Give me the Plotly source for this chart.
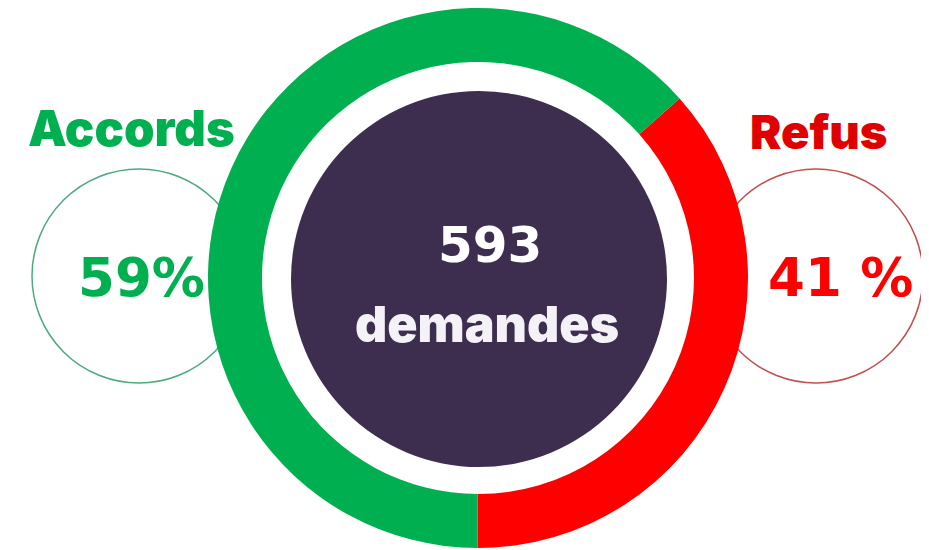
import plotly.graph_objects as go

# Data
categories = ["Refus", "Accords"]
ring_shares = [36.6, 63.4]          # arc shares as drawn in the ring
ring_colors = ["#FF0000", "#00B050"]
pct_labels = ["41 %", "59%"]
total_label = "593"
total_caption = "demandes"

# page body adds an 8px margin; the figure fills the rest of the 929x550 window
OFF = 8
W, H = 929 - OFF, 550 - OFF

def px(x):
    return (x - OFF) / W

def py(y):
    return 1 - (y - OFF) / H

cx, cy, R = 478, 278, 270

fig = go.Figure(go.Pie(
    labels=categories,
    values=ring_shares,
    marker=dict(colors=ring_colors, line=dict(width=0)),
    hole=0.80,
    sort=False,
    direction="clockwise",
    rotation=48.3,
    textinfo="none",
    hoverinfo="label",
    showlegend=False,
    domain=dict(x=[px(cx - R), px(cx + R)], y=[max(0, py(cy + R)), min(1, py(cy - R))]),
))

shapes = []
# central dark disc
rd = 188
shapes.append(dict(type="circle", xref="paper", yref="paper", layer="below",
                   x0=px(479 - rd), x1=px(479 + rd), y0=py(279 + rd), y1=py(279 - rd),
                   fillcolor="#3D2D4F", line=dict(width=0)))
# side outline circles
rs = 107
shapes.append(dict(type="circle", xref="paper", yref="paper", layer="below",
                   x0=px(139 - rs), x1=px(139 + rs), y0=py(276 + rs), y1=py(276 - rs),
                   fillcolor="rgba(0,0,0,0)", line=dict(color="#4DAA7E", width=1.5)))
shapes.append(dict(type="circle", xref="paper", yref="paper", layer="below",
                   x0=px(816 - rs), x1=px(816 + rs), y0=py(276 + rs), y1=py(276 - rs),
                   fillcolor="rgba(0,0,0,0)", line=dict(color="#C0504D", width=1.5)))

title_font = "Inter, Lato, 'DejaVu Sans', sans-serif"
num_font = "'DejaVu Sans', Verdana, sans-serif"

annotations = [
    dict(text="Accords", x=px(131), y=py(129), font=dict(family=title_font, size=49, color="#00B050", weight=900)),
    dict(text="Refus", x=px(818), y=py(131), font=dict(family=title_font, size=47, color="#E00000", weight=900)),
    dict(text=pct_labels[1], x=px(141), y=py(277), font=dict(family=num_font, size=53, color="#00B050", weight=700)),
    dict(text=pct_labels[0], x=px(840), y=py(277), font=dict(family=num_font, size=53, color="#FF0000", weight=700)),
    dict(text=total_label, x=px(490), y=py(245), font=dict(family=num_font, size=50, color="#FFFFFF", weight=700)),
    dict(text=total_caption, x=px(487), y=py(324), font=dict(family=title_font, size=50, color="#F4F2F6", weight=900)),
]
for a in annotations:
    a.update(xref="paper", yref="paper", xanchor="center", yanchor="middle", showarrow=False)

fig.update_layout(
    width=W, height=H,
    margin=dict(l=0, r=0, t=0, b=0),
    paper_bgcolor="#FFFFFF",
    plot_bgcolor="#FFFFFF",
    shapes=shapes,
    annotations=annotations,
    showlegend=False,
)

fig.write_html("out.html")
